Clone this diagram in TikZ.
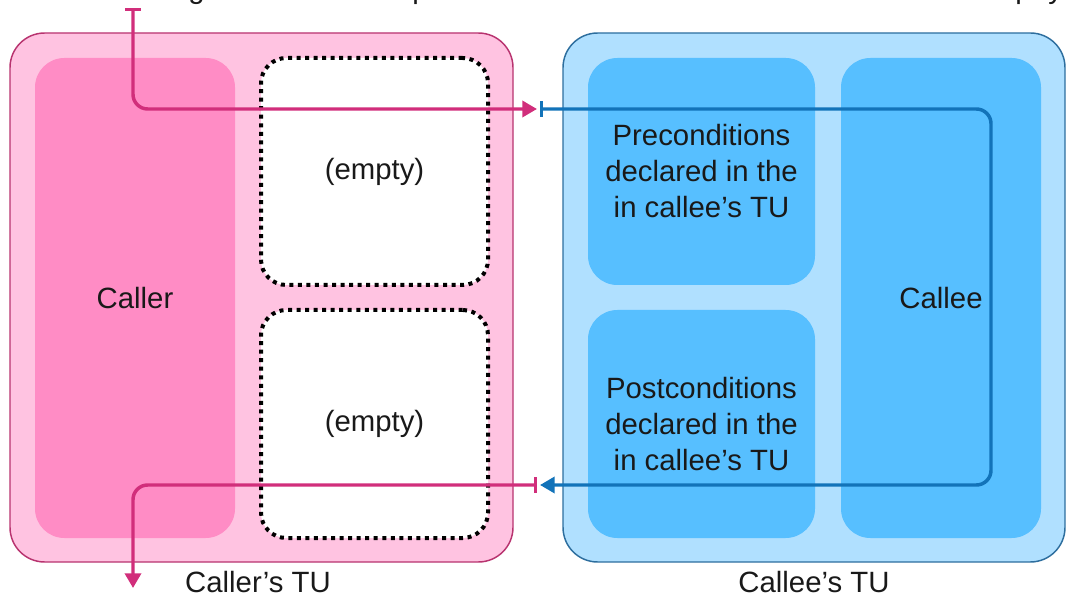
\documentclass[tikz,border=0pt]{standalone}
\usepackage{fontspec}
\setmainfont{Liberation Sans}
\usetikzlibrary{arrows.meta,fit}

\definecolor{callerTU}{HTML}{FFC3E1}
\definecolor{callerTUline}{HTML}{B8336F}
\definecolor{callerFill}{HTML}{FF8CC5}
\definecolor{callerFlow}{HTML}{D12E7B}
\definecolor{calleeTU}{HTML}{B0E0FF}
\definecolor{calleeTUline}{HTML}{2D6E9E}
\definecolor{calleeFill}{HTML}{57BFFF}
\definecolor{calleeFlow}{HTML}{1273B9}

\tikzset{
  tubox/.style={draw, line width=1.1pt, rounded corners=26pt, inner sep=0pt},
  part/.style={rounded corners=22pt, inner sep=0pt},
  emptypart/.style={fill=white, draw=black, line width=3pt,
    dash pattern=on 3pt off 3.4pt, rounded corners=19pt, inner sep=0pt},
  lbl/.style={font=\fontsize{22}{27}\selectfont, align=center, text=black!90},
  flow/.style={line width=2.6pt, rounded corners=11pt,
    arrows={Bar[width=12pt]-Triangle[length=11pt,width=12pt]}},
}

\begin{document}
\begin{tikzpicture}[x=0.75pt, y=-0.75pt]
\useasboundingbox (0,0) rectangle (1067,598);

% tail of the line of text above, mostly off the page
\foreach \ch/\xx in {g/188, p/412, ,/537, p/1015, y/1048}
  \node[lbl, anchor=base west, inner sep=0pt] at (\xx,-1) {\ch};

% caller's translation unit
\node[tubox, fill=callerTU, draw=callerTUline, fit={(10,33)(513,562)}] (callerTU) {};
\node[part, fill=callerFill, fit={(35,58)(235,538)}] (caller) {};
\node[emptypart, fit={(261,58)(488,285)}] (empty1) {};
\node[emptypart, fit={(261,310)(488,538)}] (empty2) {};
\node[lbl] at (caller) {Caller};
\node[lbl] at (empty1) {(empty)};
\node[lbl] at (empty2) {(empty)};
\node[lbl, anchor=base] (callerTUlbl) at (258,592) {Caller’s TU};

% callee's translation unit
\node[tubox, fill=calleeTU, draw=calleeTUline, fit={(563,33)(1065,562)}] (calleeTU) {};
\node[part, fill=calleeFill, fit={(588,58)(815,285)}] (pre) {};
\node[part, fill=calleeFill, fit={(588,310)(815,538)}] (post) {};
\node[part, fill=calleeFill, fit={(841,58)(1041,538)}] (callee) {};
\node[lbl] at (pre) {Preconditions\\declared in the\\in callee’s TU};
\node[lbl] at (post) {Postconditions\\declared in the\\in callee’s TU};
\node[lbl] at (callee) {Callee};
\node[lbl, anchor=base] (calleeTUlbl) at (814,592) {Callee’s TU};

% control flow
\coordinate (callIn) at (133,8);
\coordinate (callOut) at (537,109);
\coordinate (entry) at (540,109);
\coordinate (turnTop) at (991,109);
\coordinate (turnBot) at (991,485);
\coordinate (exit) at (540,485);
\coordinate (retIn) at (537,485);
\coordinate (retOut) at (133,588);

\draw[flow, callerFlow] (callIn) |- (callOut);
\draw[flow, calleeFlow] (entry) -- (turnTop) -- (turnBot) -- (exit);
\draw[flow, callerFlow] (retIn) -| (retOut);
\end{tikzpicture}
\end{document}
